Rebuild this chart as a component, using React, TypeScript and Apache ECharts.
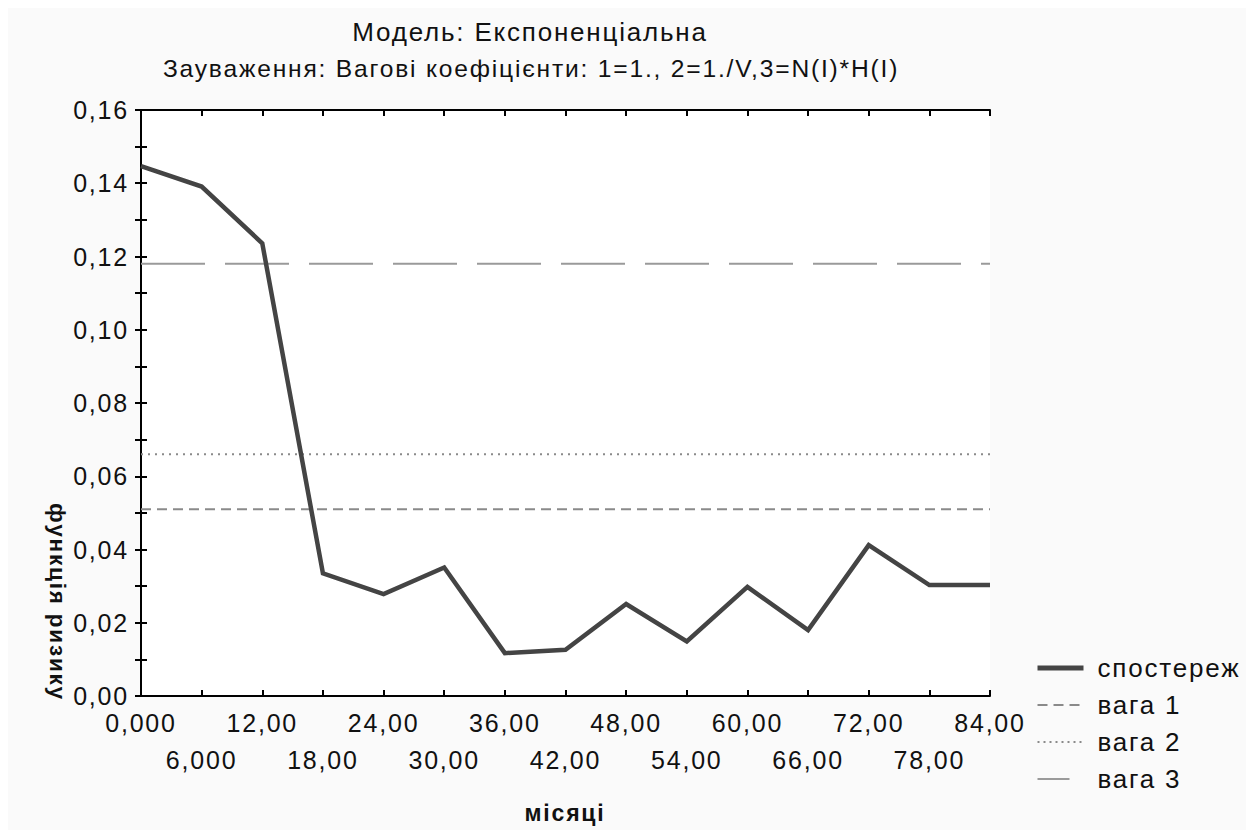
import React, { useEffect, useRef } from "react";
import * as echarts from "echarts";

const titleText = "Модель: Експоненціальна";
const subtitleText = "Зауваження: Вагові коефіцієнти: 1=1., 2=1./V,3=N(I)*H(I)";
const xAxisName = "місяці";
const yAxisName = "функція ризику";

const months = [0, 6, 12, 18, 24, 30, 36, 42, 48, 54, 60, 66, 72, 78, 84];
const observed = [
  0.1447, 0.1391, 0.1236, 0.0335, 0.0278, 0.0351, 0.0117, 0.0126, 0.0251,
  0.0149, 0.0298, 0.018, 0.0412, 0.0303, 0.0303,
];
const seriesNames = ["спостереж", "вага 1", "вага 2", "вага 3"];
const weightLevels = [0.051, 0.066, 0.118];

const xMin = 0;
const xMax = 84;
const xStep = 6;
const yMin = 0;
const yMax = 0.16;
const yTickStep = 0.01;

const FONT = "'Liberation Sans', Arial, sans-serif";

function fmtX(v: number): string {
  const s = v < 10 ? v.toFixed(3) : v.toFixed(2);
  return s.replace(".", ",");
}
function fmtY(v: number): string {
  return v.toFixed(2).replace(".", ",");
}

export default function App() {
  const ref = useRef<HTMLDivElement>(null);
  useEffect(() => {
    if (!ref.current) return;
    const chart = echarts.init(ref.current, undefined, { renderer: "svg" });
    const weightStyles = [
      { color: "#8a8a8a", width: 2, type: [10, 6] },
      { color: "#8a8a8a", width: 2, type: [2, 5] },
      { color: "#9a9a9a", width: 2, type: [64, 20] },
    ];
    const axisLine = { show: true, lineStyle: { color: "#000", width: 2 } };
    const tick = { show: true, inside: true, length: 6, lineStyle: { color: "#000", width: 2 } };
    const xLabelBase = {
      fontSize: 25,
      color: "#111",
      fontFamily: FONT,
      lineHeight: 38,
      verticalAlign: "top",
      showMinLabel: true,
      showMaxLabel: true,
    };
    const option: any = {
      animation: false,
      backgroundColor: "#fafafa",
      textStyle: { fontFamily: FONT },
      grid: {
        left: 133,
        top: 102,
        width: 849,
        height: 586,
        show: true,
        backgroundColor: "#ffffff",
        borderWidth: 0,
      },
      xAxis: [
        {
          type: "value",
          min: xMin,
          max: xMax,
          interval: xStep,
          position: "bottom",
          axisLine,
          axisTick: tick,
          splitLine: { show: false },
          axisLabel: {
            ...xLabelBase,
            margin: 8,
            formatter: (v: number) =>
              Math.round(v / xStep) % 2 === 0 ? fmtX(v) : "",
          },
        },
        {
          type: "value",
          min: xMin,
          max: xMax,
          interval: xStep,
          position: "bottom",
          axisLine: { show: false },
          axisTick: { show: false },
          splitLine: { show: false },
          axisLabel: {
            ...xLabelBase,
            margin: 45,
            formatter: (v: number) =>
              Math.round(v / xStep) % 2 === 1 ? fmtX(v) : "",
          },
        },
        {
          type: "value",
          min: xMin,
          max: xMax,
          interval: xStep,
          position: "top",
          axisLine,
          axisTick: tick,
          splitLine: { show: false },
          axisLabel: { show: false },
        },
      ],
      yAxis: [
        {
          type: "value",
          min: yMin,
          max: yMax,
          interval: yTickStep,
          position: "left",
          axisLine,
          axisTick: tick,
          splitLine: { show: false },
          axisLabel: {
            margin: 12,
            fontSize: 25,
            color: "#111",
            fontFamily: FONT,
            showMinLabel: true,
            showMaxLabel: true,
            formatter: (v: number) => {
              const idx = Math.round(v / yTickStep);
              return idx % 2 === 1 ? "" : fmtY(v);
            },
          },
        },
        {
          type: "value",
          min: yMin,
          max: yMax,
          interval: yTickStep,
          position: "right",
          axisLine,
          axisTick: tick,
          splitLine: { show: false },
          axisLabel: { show: false },
        },
      ],
      legend: {
        orient: "vertical",
        left: 1027,
        top: 647,
        padding: 0,
        itemWidth: 46,
        itemHeight: 14,
        itemGap: 11,
        selectedMode: false,
        itemStyle: { opacity: 0 },
        textStyle: {
          fontSize: 26,
          color: "#111",
          fontFamily: FONT,
          padding: [0, 0, 0, 9],
        },
        data: [
          { name: seriesNames[0], lineStyle: { width: 5 } },
          { name: seriesNames[1] },
          { name: seriesNames[2], lineStyle: { type: [2, 4] } },
          { name: seriesNames[3], lineStyle: { type: [32, 100] } },
        ],
      },
      series: [
        {
          name: seriesNames[0],
          type: "line",
          xAxisIndex: 0,
          yAxisIndex: 0,
          data: months.map((m, i) => [m, observed[i]]),
          symbol: "none",
          silent: true,
          z: 5,
          lineStyle: { color: "#444444", width: 4.5, join: "miter" },
          itemStyle: { color: "#444444" },
        },
        ...weightLevels.map((w, i) => ({
          name: seriesNames[i + 1],
          type: "line",
          xAxisIndex: 0,
          yAxisIndex: 0,
          data: [
            [xMin, w],
            [xMax, w],
          ],
          symbol: "none",
          silent: true,
          z: 3,
          lineStyle: weightStyles[i],
          itemStyle: { color: weightStyles[i].color },
        })),
      ],
      graphic: [
        {
          type: "text",
          x: 522,
          y: 24,
          style: {
            text: titleText,
            font: `26px ${FONT}`,
            fill: "#111",
            align: "center",
            verticalAlign: "middle",
          },
        },
        {
          type: "text",
          x: 523,
          y: 60,
          style: {
            text: subtitleText,
            font: `24.6px ${FONT}`,
            fill: "#111",
            align: "center",
            verticalAlign: "middle",
          },
        },
        {
          type: "text",
          x: 557,
          y: 805,
          style: {
            text: xAxisName,
            font: `bold 23px ${FONT}`,
            fill: "#111",
            align: "center",
            verticalAlign: "middle",
          },
        },
        {
          type: "text",
          x: 49,
          y: 594,
          rotation: -Math.PI / 2,
          style: {
            text: yAxisName,
            font: `bold 22.5px ${FONT}`,
            fill: "#111",
            align: "center",
            verticalAlign: "middle",
          },
        },
      ],
    };
    chart.setOption(option);
    return () => chart.dispose();
  }, []);
  return (
    <div
      ref={ref}
      style={{ width: 1246, height: 822, letterSpacing: "1.8px" }}
    />
  );
}
